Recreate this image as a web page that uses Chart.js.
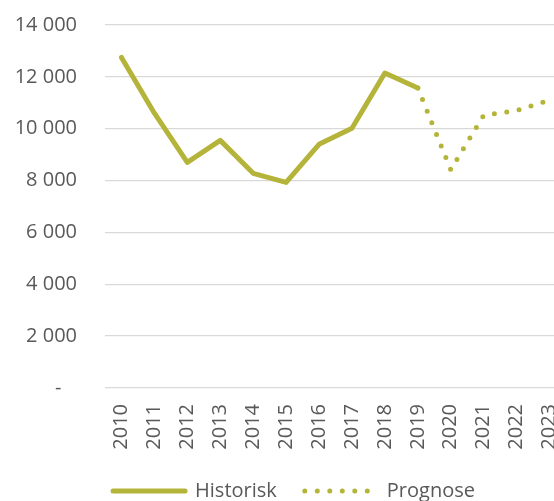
<!DOCTYPE html>
<html>
<head>
<meta charset="utf-8">
<script src="https://cdn.jsdelivr.net/npm/chart.js@4"></script>
<style>
  html, body { margin: 0; padding: 0; background: #fff; overflow: hidden; }
  #wrap { width: 566px; height: 501px; }
</style>
</head>
<body>
<div id="wrap"><canvas id="prognoseChart"></canvas></div>
<script>
// Years on the x axis
const years = ["2010", "2011", "2012", "2013", "2014", "2015", "2016", "2017", "2018", "2019", "2020", "2021", "2022", "2023"];

// Historic values
const historisk = [12750, 10600, 8700, 9550, 8280, 7930, 9400, 10020, 12150, 11570, null, null, null, null];

// Forecast, starts at the last historic year so the lines join
const prognose = [null, null, null, null, null, null, null, null, null, 11570, 8420, 10520, 10700, 11100];

const green = "#b5b43a";
const textGrey = "#595959";
const font_Family = "'Open Sans', 'Liberation Sans', sans-serif";

// Number with space as thousand separator, zero shown as a dash
function format_Tick(value) {
    if (value === 0) return "-   ";
    return String(value).replace(/\B(?=(\d{3})+(?!\d))/g, " ");
}

// Legend items take the dash and width from the dataset line
function legend_Labels(chart) {
    const items = Chart.defaults.plugins.legend.labels.generateLabels(chart);
    items.forEach((item) => {
        const ds = chart.data.datasets[item.datasetIndex];
        item.lineDash = ds.borderDash || [];
        item.lineCap = "round";
        item.lineWidth = ds.borderWidth;
    });
    return items;
}

// Move the legend a little right, like the original
const legend_Shift = {
    id: "legendShift",
    afterLayout(chart) {
        chart.legend.left += 11;
        chart.legend.right += 11;
    }
};

const ctx = document.getElementById("prognoseChart").getContext("2d");
new Chart(ctx, {
    type: "line",
    data: {
        labels: years,
        datasets: [{
            label: "Historisk",
            data: historisk,
            borderColor: green,
            backgroundColor: green,
            borderWidth: 5,
            borderCapStyle: "round",
            borderJoinStyle: "round",
            pointRadius: 0,
            pointHoverRadius: 0,
            pointStyle: "line",
            tension: 0
        }, {
            label: "Prognose",
            data: prognose,
            borderColor: green,
            backgroundColor: green,
            borderWidth: 5,
            borderDash: [0, 12.5],
            borderCapStyle: "round",
            pointRadius: 0,
            pointHoverRadius: 0,
            pointStyle: "line",
            tension: 0
        }]
    },
    plugins: [legend_Shift],
    options: {
        responsive: true,
        maintainAspectRatio: false,
        animation: false,
        layout: { padding: { left: 0, right: 0, top: 25, bottom: -10 } },
        plugins: {
            tooltip: { enabled: false },
            legend: {
                position: "bottom",
                labels: {
                    usePointStyle: true,
                    pointStyleWidth: 72,
                    boxHeight: 5,
                    padding: 28,
                    color: textGrey,
                    font: { family: font_Family, size: 20 },
                    generateLabels: legend_Labels
                }
            }
        },
        scales: {
            x: {
                offset: true,
                grid: { display: false, drawTicks: false },
                border: { display: false },
                ticks: {
                    color: textGrey,
                    font: { family: font_Family, size: 20 },
                    minRotation: 90,
                    maxRotation: 90,
                    padding: 16,
                    autoSkip: false
                },
                afterFit: function (scale) {
                    scale.height = 65;
                    scale.paddingLeft = 0;
                    scale.paddingRight = 0;
                }
            },
            y: {
                min: 0,
                max: 14000,
                grid: { color: "#d9d9d9", lineWidth: 1.3, drawTicks: false },
                border: { display: false },
                ticks: {
                    stepSize: 2000,
                    color: textGrey,
                    padding: 28,
                    font: { family: font_Family, size: 20 },
                    callback: format_Tick
                },
                afterFit: function (scale) {
                    scale.width = 105;
                    scale.paddingTop = 0;
                    scale.paddingBottom = 0;
                }
            }
        }
    }
});
</script>
</body>
</html>
